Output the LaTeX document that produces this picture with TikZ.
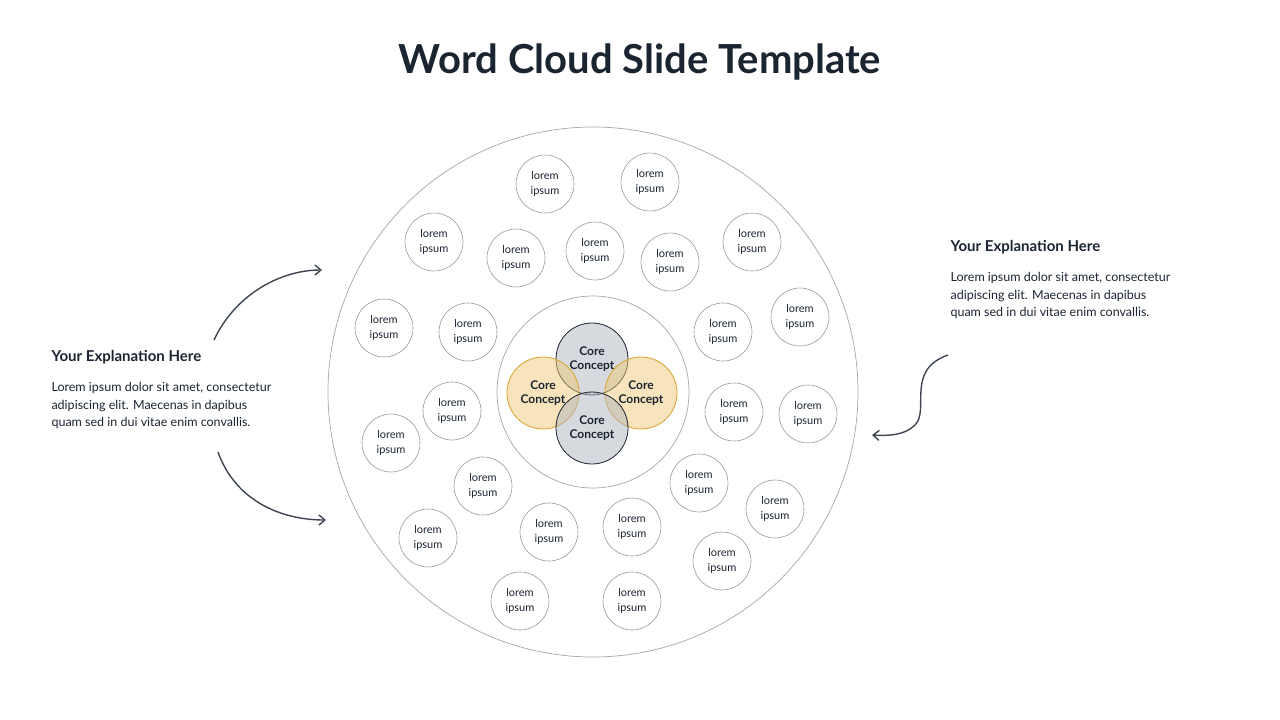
\documentclass[tikz,border=0pt]{standalone}
\usepackage{fontspec}
\setmainfont{Lato}
\definecolor{ink}{HTML}{1B2431}
\definecolor{gold}{HTML}{D9A12A}
\definecolor{goldf}{HTML}{EFC779}
\definecolor{greyf}{HTML}{AEB5BE}
\begin{document}
\begin{tikzpicture}[x=1pt,y=-1pt,
  word/.style={circle,draw=black!40,line width=0.6pt,minimum size=58pt,inner sep=0pt,align=center,font=\fontsize{11}{15}\selectfont,text=ink},
  coreg/.style={circle,draw=ink,line width=0.8pt,fill=greyf,fill opacity=0.5,text opacity=1,minimum size=72pt,inner sep=0pt,align=center,font=\bfseries\fontsize{12}{14.5}\selectfont,text=ink},
  corey/.style={coreg,draw=gold,fill=goldf},
  arr/.style={->,>={Straight Barb[length=6pt,width=10pt]},line width=1.4pt,draw=ink!85}]
\usetikzlibrary{arrows.meta}
\useasboundingbox (0,0) rectangle (1280,720);
\node[font=\bfseries\fontsize{40}{44}\selectfont,text=ink] (title) at (640,62) {Word Cloud Slide Template};
\node[circle,draw=black!35,line width=0.7pt,minimum size=530pt] (outer) at (593,392) {};
\node[circle,draw=black!35,line width=0.7pt,minimum size=192pt] (inner) at (593,392) {};
\node[coreg] (ct) at (592,359) {Core\\Concept};
\node[corey] (cl) at (543,393) {Core\\Concept};
\node[corey] (cr) at (641,393) {Core\\Concept};
\node[coreg] (cb) at (592,428) {Core\\Concept};
\foreach \x/\y [count=\i] in {545/184,650/182,434/242,516/258,595/251,670/262,752/242,384/328,468/332,723/332,800/317,452/411,391/443,734/412,808/414,483/486,699/483,775/509,428/538,549/532,632/527,722/561,520/601,632/601}
  \node[word] (w\i) at (\x,\y) {lorem\\ipsum};
\node[anchor=west,font=\bfseries\fontsize{15}{18}\selectfont,text=ink] (lh) at (48,357) {Your Explanation Here};
\node[anchor=north west,align=left,font=\fontsize{12.5}{17.5}\selectfont,text=ink] (lb) at (48,379) {Lorem ipsum dolor sit amet, consectetur\\adipiscing elit. Maecenas in dapibus\\quam sed in dui vitae enim convallis.};
\node[anchor=west,font=\bfseries\fontsize{15}{18}\selectfont,text=ink] (rh) at (947,247) {Your Explanation Here};
\node[anchor=north west,align=left,font=\fontsize{12.5}{17.5}\selectfont,text=ink] (rb) at (947,269) {Lorem ipsum dolor sit amet, consectetur\\adipiscing elit. Maecenas in dapibus\\quam sed in dui vitae enim convallis.};
\coordinate (a1s) at (214,340); \coordinate (a1e) at (322,270);
\coordinate (a2s) at (218,452); \coordinate (a2e) at (326,520);
\coordinate (a3s) at (948,355); \coordinate (a3e) at (872,435);
\draw[arr] (a1s) .. controls (235,295) and (280,270) .. (a1e);
\draw[arr] (a2s) .. controls (235,500) and (280,520) .. (a2e);
\draw[arr] (a3s) .. controls (905,370) and (930,410) .. (915,425) .. controls (905,435) and (890,436) .. (a3e);
\end{tikzpicture}
\end{document}
